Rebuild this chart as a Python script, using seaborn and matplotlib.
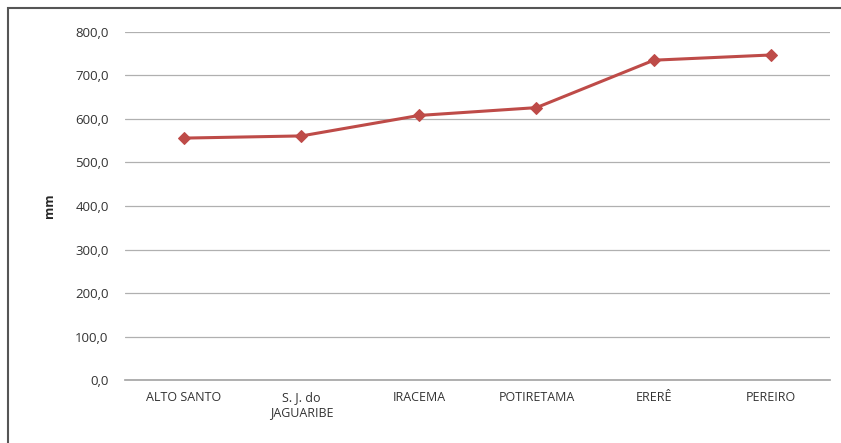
import matplotlib
matplotlib.use("Agg")
import matplotlib.pyplot as plt
import seaborn as sns
import pandas as pd
from matplotlib.patches import Rectangle

categories = ["ALTO SANTO", "S. J. do\nJAGUARIBE", "IRACEMA", "POTIRETAMA", "ERERÊ", "PEREIRO"]
values = [556.0, 561.0, 608.0, 626.0, 735.0, 747.0]
yticks = [0, 100, 200, 300, 400, 500, 600, 700, 800]
ytick_labels = ["0,0", "100,0", "200,0", "300,0", "400,0", "500,0", "600,0", "700,0", "800,0"]

sns.set_theme(style="white")
plt.rcParams['font.family'] = ['Open Sans', 'DejaVu Sans']

df = pd.DataFrame({"cat": categories, "val": values})

fig = plt.figure(figsize=(8.41, 4.43), dpi=100)
ax = fig.add_axes([0.149, 0.142, 0.838, 0.786])
sns.lineplot(data=df, x="cat", y="val", ax=ax, color="#BE4B48", marker="D",
             markersize=6, linewidth=2.2, markeredgecolor="#BE4B48", sort=False)

ax.set_xlim(-0.5, len(categories) - 0.5)
ax.set_ylim(0, 800)
ax.set_yticks(yticks)
ax.set_yticklabels(ytick_labels, fontsize=9.5, color="#333333")
ax.set_xticks(range(len(categories)))
ax.set_xticklabels(categories, fontsize=9, color="#333333")
ax.yaxis.grid(True, color="#B0B0B0", linewidth=0.9)
ax.xaxis.grid(False)
for s in ["top", "right", "left"]:
    ax.spines[s].set_visible(False)
ax.spines["bottom"].set_color("#A6A6A6")
ax.tick_params(axis="y", length=0, pad=12)
ax.tick_params(axis="x", length=0, pad=8)
ax.set_xlabel("")
ax.set_ylabel("mm", fontsize=9, fontweight="bold", labelpad=14)

fig.patches.append(Rectangle((0.009, -0.01), 1.2, 0.993, transform=fig.transFigure,
                             fill=False, edgecolor="#555555", linewidth=1.5))

fig.savefig("out.png", dpi=100)
